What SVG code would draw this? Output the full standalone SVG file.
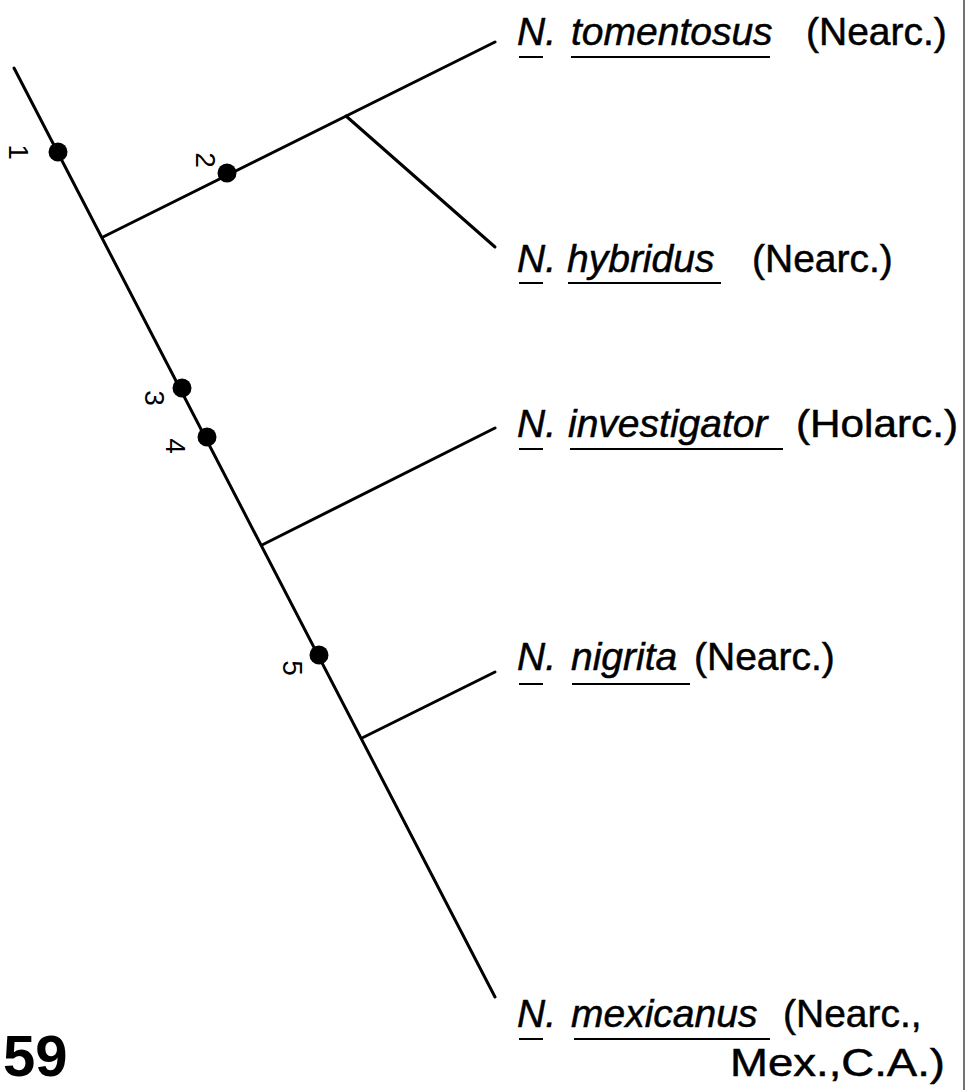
<svg xmlns="http://www.w3.org/2000/svg" width="967" height="1090" viewBox="0 0 967 1090">
<style>
.br{stroke:#000;stroke-width:3;fill:none;stroke-linecap:round}
.ul{stroke:#000;stroke-width:2;fill:none}
.dot{fill:#000}
.lb{font-family:"Liberation Sans",Arial,sans-serif;font-size:39px;fill:#000;stroke:#000;stroke-width:0.5}
.it{font-style:italic}
.num{font-family:"Liberation Sans",Arial,sans-serif;font-size:28px;fill:#000;text-anchor:middle;dominant-baseline:central}
.fig{font-family:"Liberation Sans",Arial,sans-serif;font-size:58px;font-weight:bold;fill:#000}
</style>
<rect width="967" height="1090" fill="#fff"/>
<line x1="964" y1="0" x2="964" y2="1090" stroke="#444" stroke-width="1.5"/>
<g id="connectors">
<line class="br" x1="14" y1="68" x2="495" y2="997"/>
<line class="br" x1="103" y1="237" x2="495" y2="42"/>
<line class="br" x1="346" y1="116" x2="495" y2="247"/>
<line class="br" x1="262" y1="545" x2="495" y2="428"/>
<line class="br" x1="362" y1="738" x2="495" y2="672"/>
</g>
<g id="markers">
<g id="m1"><circle class="dot" cx="58" cy="152" r="9.5"/><text class="num" transform="rotate(90 18 152)" x="18" y="152">1</text></g>
<g id="m2"><circle class="dot" cx="227" cy="173" r="9.5"/><text class="num" transform="rotate(90 205 160)" x="205" y="160">2</text></g>
<g id="m3"><circle class="dot" cx="182" cy="388" r="9.5"/><text class="num" transform="rotate(90 154 398)" x="154" y="398">3</text></g>
<g id="m4"><circle class="dot" cx="207" cy="437" r="9.5"/><text class="num" transform="rotate(90 175 446)" x="175" y="446">4</text></g>
<g id="m5"><circle class="dot" cx="319" cy="655" r="9.5"/><text class="num" transform="rotate(90 292 668)" x="292" y="668">5</text></g>
</g>
<g id="tomentosus">
<text class="lb" x="517" y="45"><tspan class="it">N.</tspan><tspan class="it" x="571">tomentosus</tspan><tspan x="806">(Nearc.)</tspan></text>
<line class="ul" x1="519" y1="57" x2="543" y2="57"/><line class="ul" x1="571" y1="57" x2="770" y2="57"/>
</g>
<g id="hybridus">
<text class="lb" x="517" y="272"><tspan class="it">N.</tspan><tspan class="it" x="567">hybridus</tspan><tspan x="752">(Nearc.)</tspan></text>
<line class="ul" x1="519" y1="283" x2="543" y2="283"/><line class="ul" x1="568" y1="283" x2="721" y2="283"/>
</g>
<g id="investigator">
<text class="lb" x="517" y="437"><tspan class="it">N.</tspan><tspan class="it" x="568">investigator</tspan><tspan x="796" textLength="162" lengthAdjust="spacingAndGlyphs">(Holarc.)</tspan></text>
<line class="ul" x1="519" y1="449" x2="543" y2="449"/><line class="ul" x1="570" y1="449" x2="783" y2="449"/>
</g>
<g id="nigrita">
<text class="lb" x="517" y="670"><tspan class="it">N.</tspan><tspan class="it" x="571">nigrita</tspan><tspan x="694">(Nearc.)</tspan></text>
<line class="ul" x1="519" y1="684" x2="543" y2="684"/><line class="ul" x1="572" y1="684" x2="690" y2="684"/>
</g>
<g id="mexicanus">
<text class="lb" x="517" y="1027"><tspan class="it">N.</tspan><tspan class="it" x="571">mexicanus</tspan><tspan x="783">(Nearc.,</tspan></text>
<text class="lb" x="730" y="1076" textLength="215" lengthAdjust="spacingAndGlyphs">Mex.,C.A.)</text>
<line class="ul" x1="519" y1="1039" x2="543" y2="1039"/><line class="ul" x1="574" y1="1039" x2="770" y2="1039"/>
</g>
<text class="fig" x="3" y="1076">59</text>
</svg>
